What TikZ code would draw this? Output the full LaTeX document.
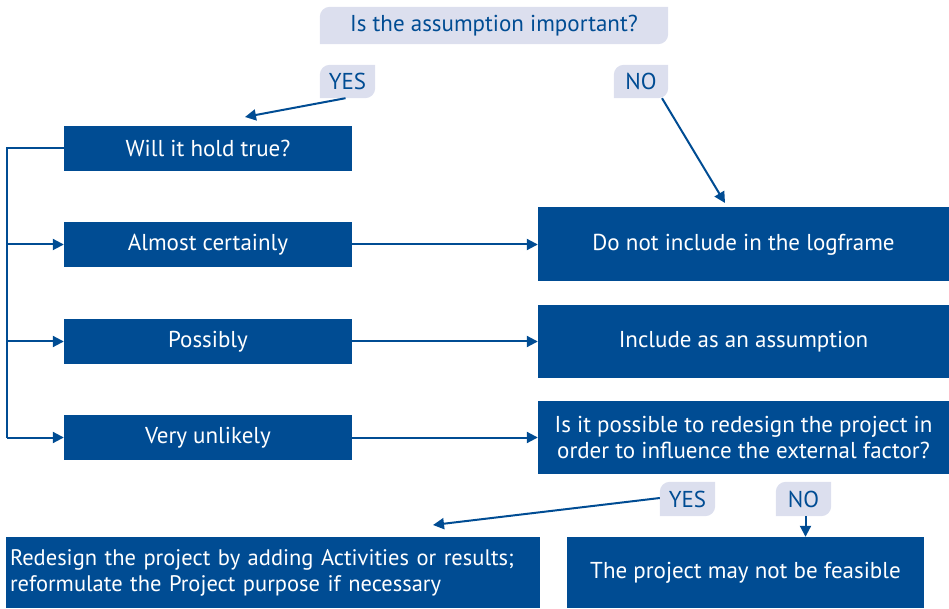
\documentclass[tikz,border=0pt]{standalone}
\usepackage{fontspec}
\setmainfont{PT Sans}
\usetikzlibrary{arrows.meta,backgrounds,calc}
\definecolor{dblue}{RGB}{0,76,147}
\definecolor{lav}{RGB}{220,223,238}
\tikzset{
  box/.style={fill=dblue,text=white,inner sep=0pt,align=center,font=\fontsize{23}{26}\selectfont},
  lab/.style={text=dblue,inner sep=0pt,align=center,font=\fontsize{23}{26}\selectfont},
  conn/.style={draw=dblue,line width=2pt,-{Triangle[length=11pt,width=11pt]}},
  plain/.style={draw=dblue,line width=2pt},
}
\newcommand{\leaf}[1]{%
  \fill[lav] (#1.south west) -- ([yshift=-10pt]#1.north west) arc[start angle=180,end angle=90,radius=10pt] -- (#1.north east) -- ([yshift=10pt]#1.south east) arc[start angle=0,end angle=-90,radius=10pt] -- cycle;}
\begin{document}
\begin{tikzpicture}[x=1pt,y=1pt]
\useasboundingbox (0,0) rectangle (949,608);
\node[lab,minimum width=348pt,minimum height=37pt] (q) at (494,582.5) {Is the assumption important?};
\node[lab,minimum width=55pt,minimum height=33pt] (yes1) at (347.5,526.5) {YES};
\node[lab,minimum width=54pt,minimum height=33pt] (no1) at (641,526.5) {NO};
\node[box,minimum width=288pt,minimum height=45pt] (will) at (208,459.5) {Will it hold true?};
\node[box,minimum width=288pt,minimum height=45pt] (almost) at (208,363.5) {Almost certainly};
\node[box,minimum width=288pt,minimum height=45pt] (poss) at (208,266.5) {Possibly};
\node[box,minimum width=288pt,minimum height=45pt] (unl) at (208,170.5) {Very unlikely};
\node[box,minimum width=411pt,minimum height=74pt] (dni) at (743.5,363.5) {Do not include in the logframe};
\node[box,minimum width=411pt,minimum height=73pt] (inc) at (743.5,266.5) {Include as an assumption};
\node[box,minimum width=411pt,minimum height=73pt] (rq) at (743.5,170.5) {Is it possible to redesign the project in\\order to influence the external factor?};
\node[lab,minimum width=55pt,minimum height=34pt] (yes2) at (687.5,109) {YES};
\node[lab,minimum width=55pt,minimum height=34pt] (no2) at (803.5,109) {NO};
\node[box,minimum width=534pt,minimum height=71pt,text width=526pt,align=left,font=\fontsize{22.5}{26}\selectfont] (red) at (273,35.5) {Redesign the project by adding Activities or results;\\reformulate the Project purpose if necessary};
\node[box,minimum width=357pt,minimum height=71pt] (feas) at (745.5,35.5) {The project may not be feasible};
\begin{scope}[on background layer]
\leaf{q}\leaf{yes1}\leaf{no1}\leaf{yes2}\leaf{no2}
\end{scope}
\coordinate (rail) at (7,0);
\coordinate (t1) at (245,491);
\coordinate (t2) at (725,405);
\coordinate (t3) at (433,83);
\draw[plain] (will.west) -- (will.west -| rail) -- (unl.west -| rail);
\draw[conn] (almost.west -| rail) -- (almost.west);
\draw[conn] (poss.west -| rail) -- (poss.west);
\draw[conn] (unl.west -| rail) -- (unl.west);
\draw[conn] (almost.east) -- (almost.east -| dni.west);
\draw[conn] (poss.east) -- (poss.east -| inc.west);
\draw[conn] (unl.east) -- (unl.east -| rq.west);
\draw[conn] ([xshift=-2pt]yes1.south) -- (t1);
\draw[conn] ([xshift=21pt]no1.south) -- (t2);
\draw[conn] ([yshift=1pt]yes2.west) -- (t3);
\draw[conn] ([xshift=2pt]no2.south) -- ([xshift=2pt]no2.south |- feas.north);
\end{tikzpicture}
\end{document}
